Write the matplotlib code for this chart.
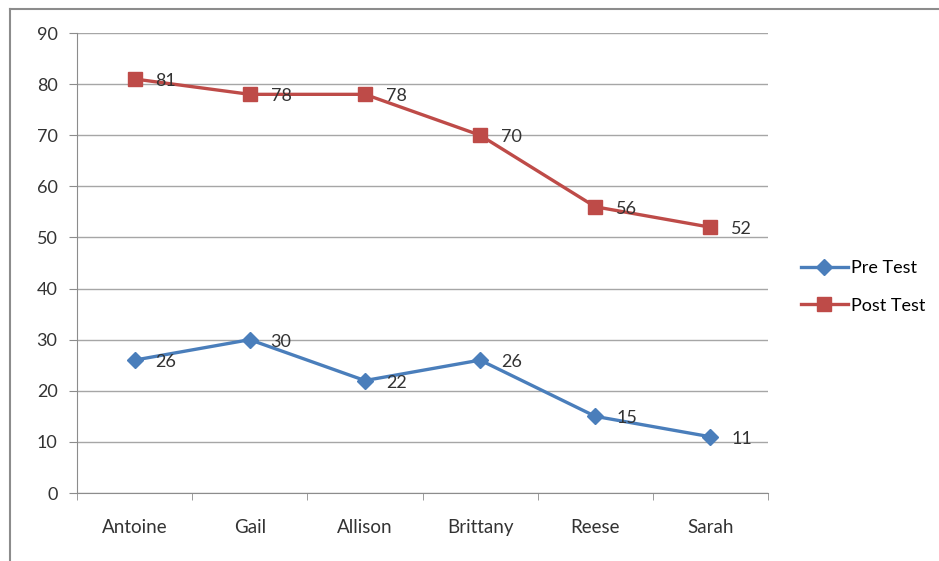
import matplotlib.pyplot as plt
from matplotlib.lines import Line2D

students = ["Antoine", "Gail", "Allison", "Brittany", "Reese", "Sarah"]
pre_test = [26, 30, 22, 26, 15, 11]
post_test = [81, 78, 78, 70, 56, 52]

plt.rcParams['font.family'] = ['Lato', 'DejaVu Sans']

fig = plt.figure(figsize=(9.39, 5.61), dpi=100)
ax = fig.add_axes([77 / 939, 1 - 493 / 561, (768 - 77) / 939, (493 - 33) / 561])

# outer chart border (only left and top visible)
fig.add_artist(Line2D([10 / 939, 10 / 939], [0, 1 - 9 / 561], transform=fig.transFigure,
                      color="#8c8c8c", lw=1.5))
fig.add_artist(Line2D([10 / 939, 1], [1 - 9 / 561, 1 - 9 / 561], transform=fig.transFigure,
                      color="#8c8c8c", lw=1.5))

blue = "#4a7ebb"
red = "#be4b48"
txt = "#333333"
x = list(range(len(students)))
ax.plot(x, pre_test, color=blue, lw=2.4, marker="D", ms=8, label="Pre Test")
ax.plot(x, post_test, color=red, lw=2.4, marker="s", ms=10, label="Post Test")

for xi, v in zip(x, pre_test):
    ax.annotate(str(v), (xi, v), xytext=(15, -1.5), textcoords="offset points",
                ha="left", va="center", fontsize=13, color=txt)
for xi, v in zip(x, post_test):
    ax.annotate(str(v), (xi, v), xytext=(15, -1.5), textcoords="offset points",
                ha="left", va="center", fontsize=13, color=txt)

ax.set_xlim(-0.5, 5.5)
ax.set_ylim(0, 90)
ax.set_yticks(range(0, 91, 10))
ax.set_xticks(x)
ax.set_xticklabels(students)
ax.set_xticks([i - 0.5 for i in range(7)], minor=True)
ax.tick_params(axis="x", which="major", length=0, pad=19, labelsize=13.5, labelcolor=txt)
ax.tick_params(axis="x", which="minor", length=5, color="#8c8c8c")
ax.tick_params(axis="y", length=6, color="#8c8c8c", labelsize=13, labelcolor=txt, pad=8)
ax.yaxis.grid(True, color="#a6a6a6", lw=1)
ax.set_axisbelow(True)
for s in ["top", "right"]:
    ax.spines[s].set_visible(False)
for s in ["left", "bottom"]:
    ax.spines[s].set_color("#8c8c8c")

ax.legend(loc="center left", bbox_to_anchor=(1.024, 0.448), frameon=False,
          fontsize=13, handlelength=2.6, labelspacing=1.2, handletextpad=0.2)

fig.savefig("out.png", dpi=100, facecolor="white")
